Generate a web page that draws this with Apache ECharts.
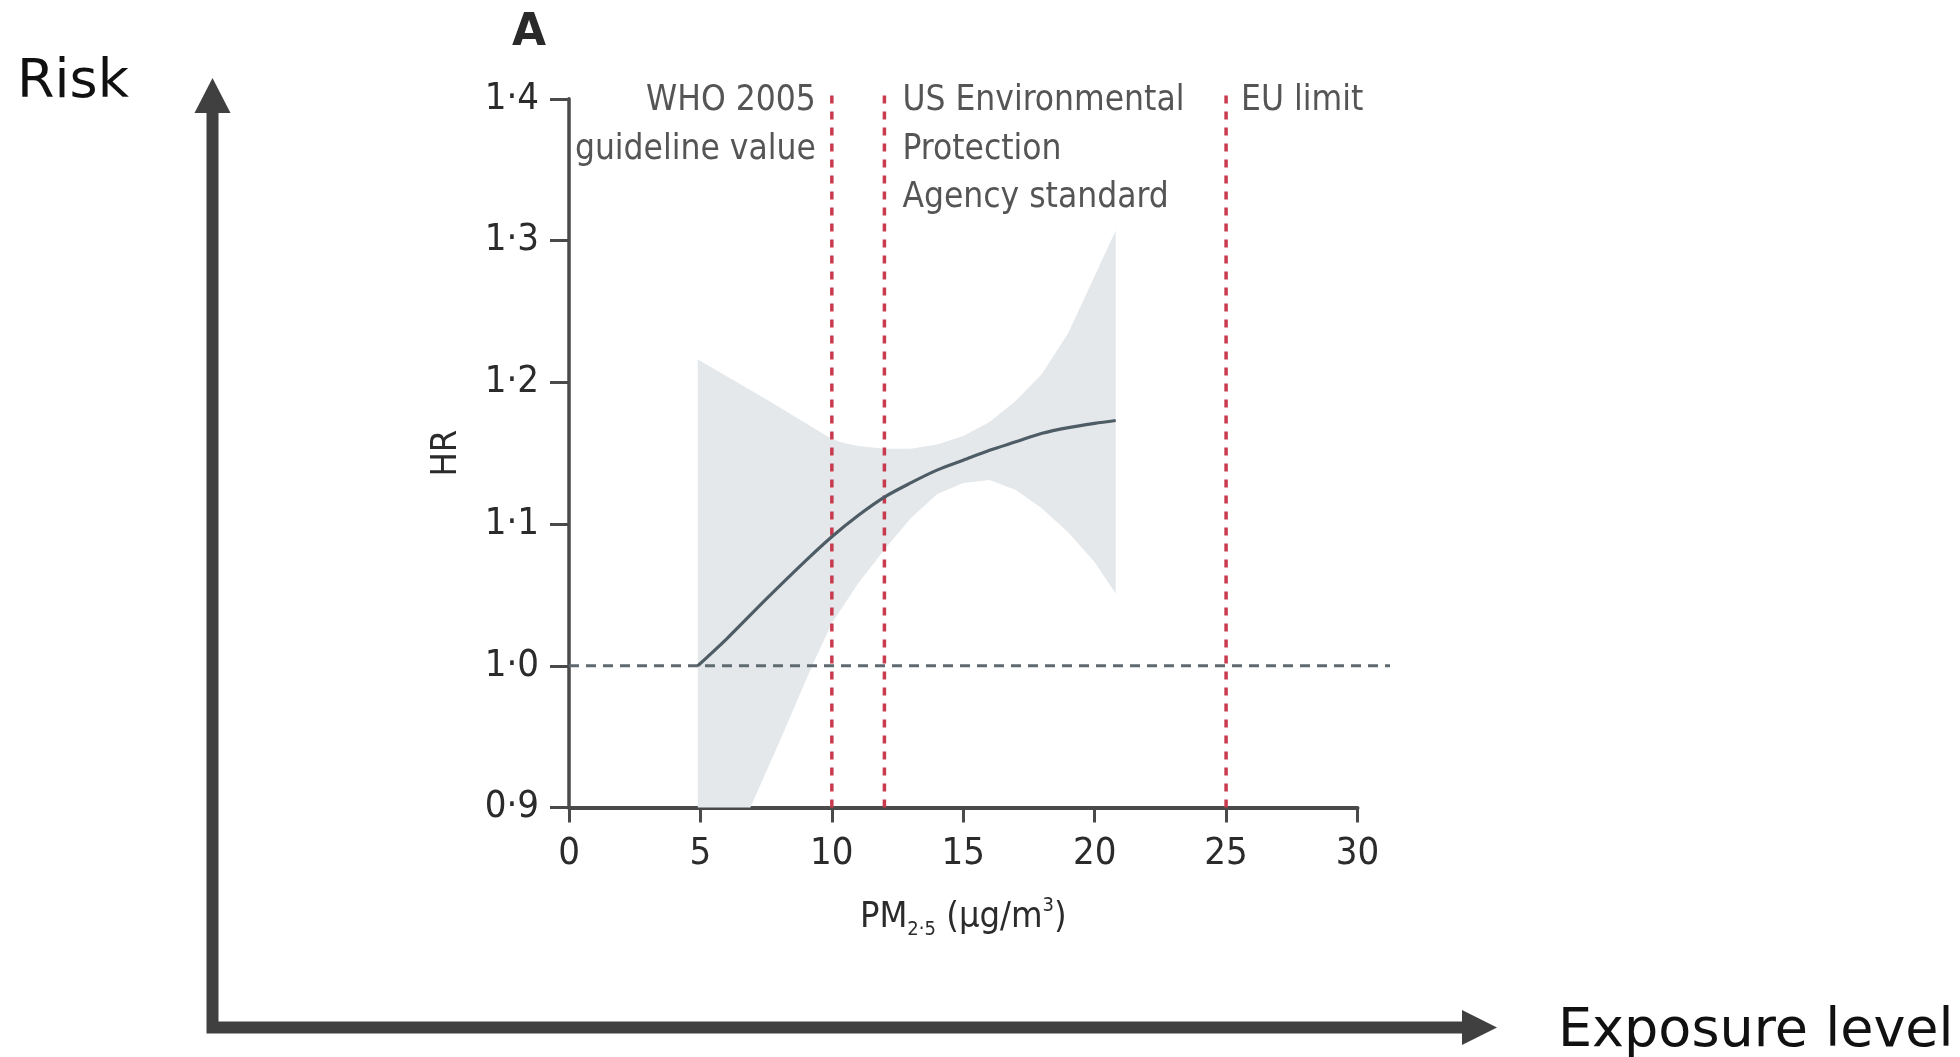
<!DOCTYPE html>
<html>
<head>
<meta charset="utf-8">
<title>PM2.5 and HR</title>
<script src="https://cdn.jsdelivr.net/npm/echarts@6/dist/echarts.min.js"></script>
<style>
  html, body { margin: 0; padding: 0; background: #fff; }
  #chart { width: 1960px; height: 1057px; }
</style>
</head>
<body>
<div id="chart"></div>
<script>
// x ticks / y ticks
const xTicks = [0, 5, 10, 15, 20, 25, 30];
const yTicks = [0.9, 1.0, 1.1, 1.2, 1.3, 1.4];

// HR curve
const hrX = [4.9, 6, 7.5, 9, 10, 11, 12, 13, 14, 15, 16, 17, 18, 19, 20, 20.8];
const hrY = [1.0, 1.019, 1.047, 1.074, 1.091, 1.106, 1.119, 1.129, 1.138, 1.145, 1.152, 1.158, 1.164, 1.168, 1.171, 1.173];

// confidence band
const upperX = [4.9, 7.5, 10, 10.5, 11, 12, 13, 14, 15, 16, 17, 18, 19, 20, 20.8];
const upperY = [1.216, 1.188, 1.16, 1.157, 1.155, 1.153, 1.153, 1.156, 1.162, 1.172, 1.187, 1.206, 1.235, 1.275, 1.307];
const lowerX = [4.9, 6.9, 8, 9.25, 10, 11, 12, 13, 14, 15, 16, 17, 18, 19, 20, 20.8];
const lowerY = [0.9, 0.9, 0.946, 1.0, 1.03, 1.058, 1.082, 1.104, 1.121, 1.129, 1.131, 1.124, 1.111, 1.094, 1.073, 1.051];

// reference HR = 1 line (runs a little past the axis end)
const refX = [0, 31.25];
const refY = [1.0, 1.0];

// limits
const limitX = [10, 12, 25];
const limitTop = 1.406;
const limitText = [
  'WHO 2005\nguideline value',
  'US Environmental\nProtection\nAgency standard',
  'EU limit'
];

const FONT = '"Liberation Sans Narrow", "DejaVu Sans Condensed", sans-serif';
const TXT = '#2b2b2b';
const RED = '#c83a4e';
const AX = '#4a4a4a';

const chart = echarts.init(document.getElementById('chart'));

const limitSeries = limitX.map((x) => ({
  type: 'line',
  data: [[x, yTicks[0]], [x, limitTop]],
  symbol: 'none',
  clip: false,
  silent: true,
  z: 4,
  lineStyle: { color: RED, width: 3.5, type: [8, 8] }
}));

const option = {
  animation: false,
  title: {
    text: 'A',
    left: 507,
    top: 7,
    textStyle: { fontFamily: 'DejaVu Sans', fontSize: 44, fontWeight: 'bold', color: '#2a2a2a' }
  },
  grid: [
    { left: 569, right: 602.5, top: 98.75, bottom: 249.5 },
    { left: 569, right: 570, top: 98.75, bottom: 249.5 }
  ],
  xAxis: [
    {
      type: 'value',
      gridIndex: 0,
      min: xTicks[0],
      max: xTicks[xTicks.length - 1],
      interval: 5,
      name: '{a|PM}{b|2·5}{a| (μg/m}{c|3}{a|)}',
      nameLocation: 'middle',
      nameGap: 88,
      nameTextStyle: {
        rich: {
          a: { fontFamily: FONT, fontSize: 36, lineHeight: 44, color: TXT },
          b: { fontFamily: FONT, fontSize: 20, lineHeight: 20, verticalAlign: 'bottom', color: TXT },
          c: { fontFamily: FONT, fontSize: 20, lineHeight: 20, verticalAlign: 'top', color: TXT }
        }
      },
      splitLine: { show: false },
      axisLine: { lineStyle: { color: AX, width: 4 } },
      axisTick: { length: 15, lineStyle: { color: AX, width: 3 } },
      axisLabel: { margin: 28, fontFamily: FONT, fontSize: 38, color: TXT }
    },
    {
      type: 'value',
      gridIndex: 1,
      min: refX[0],
      max: refX[1],
      show: false
    }
  ],
  yAxis: [
    {
      type: 'value',
      gridIndex: 0,
      min: yTicks[0],
      max: yTicks[yTicks.length - 1],
      interval: 0.1,
      name: 'HR',
      nameLocation: 'middle',
      nameGap: 104,
      nameRotate: 90,
      nameTextStyle: { fontFamily: FONT, fontSize: 36, color: TXT },
      splitLine: { show: false },
      axisLine: { show: true, lineStyle: { color: AX, width: 3.5 } },
      axisTick: { show: true, length: 19, lineStyle: { color: AX, width: 3 } },
      axisLabel: {
        margin: 30,
        fontFamily: FONT,
        fontSize: 38,
        color: TXT,
        formatter: (v) => v.toFixed(1).replace('.', '·')
      }
    },
    {
      type: 'value',
      gridIndex: 1,
      min: yTicks[0],
      max: yTicks[yTicks.length - 1],
      show: false
    }
  ],
  series: [
    {
      type: 'custom',
      z: 1,
      silent: true,
      data: [0],
      renderItem: (params, api) => {
        const pts = upperX.map((x, i) => api.coord([x, upperY[i]]));
        for (let i = lowerX.length - 1; i >= 0; i--) {
          pts.push(api.coord([lowerX[i], lowerY[i]]));
        }
        return { type: 'polygon', shape: { points: pts }, style: { fill: '#e4e8eb' } };
      }
    },
    {
      type: 'line',
      xAxisIndex: 1,
      yAxisIndex: 1,
      data: refX.map((x, i) => [x, refY[i]]),
      symbol: 'none',
      silent: true,
      z: 3,
      lineStyle: { color: '#5f6a70', width: 3, type: [10, 7] }
    },
    {
      type: 'line',
      data: hrX.map((x, i) => [x, hrY[i]]),
      symbol: 'none',
      smooth: 0.3,
      silent: true,
      z: 5,
      lineStyle: { color: '#4e5d65', width: 3.2 }
    },
    ...limitSeries,
    {
      type: 'scatter',
      symbolSize: 0,
      silent: true,
      z: 6,
      data: limitX.map((x, i) => ({
        value: [x, yTicks[yTicks.length - 1]],
        label: {
          show: true,
          formatter: limitText[i],
          position: i === 0 ? [-16, -22] : [i === 1 ? 18 : 15, -22],
          align: i === 0 ? 'right' : 'left',
          verticalAlign: 'top',
          lineHeight: 48.5,
          fontFamily: FONT,
          fontSize: 35,
          color: TXT
        }
      }))
    }
  ],
  graphic: [
    {
      type: 'polyline',
      shape: { points: [[212.5, 110], [212.5, 1027.5], [1465, 1027.5]] },
      style: { stroke: '#404040', lineWidth: 12, fill: null, lineJoin: 'miter' }
    },
    {
      type: 'polygon',
      shape: { points: [[212.5, 78], [194.5, 113], [230.5, 113]] },
      style: { fill: '#404040' }
    },
    {
      type: 'polygon',
      shape: { points: [[1497, 1027.5], [1462, 1010], [1462, 1045]] },
      style: { fill: '#404040' }
    },
    {
      type: 'text',
      left: 17,
      top: 56,
      style: { text: 'Risk', fontFamily: 'DejaVu Sans', fontSize: 54, fill: '#111' }
    },
    {
      type: 'text',
      left: 1558,
      top: 1005,
      style: { text: 'Exposure level', fontFamily: 'DejaVu Sans', fontSize: 54, fill: '#111' }
    }
  ]
};

chart.setOption(option);
</script>
</body>
</html>
